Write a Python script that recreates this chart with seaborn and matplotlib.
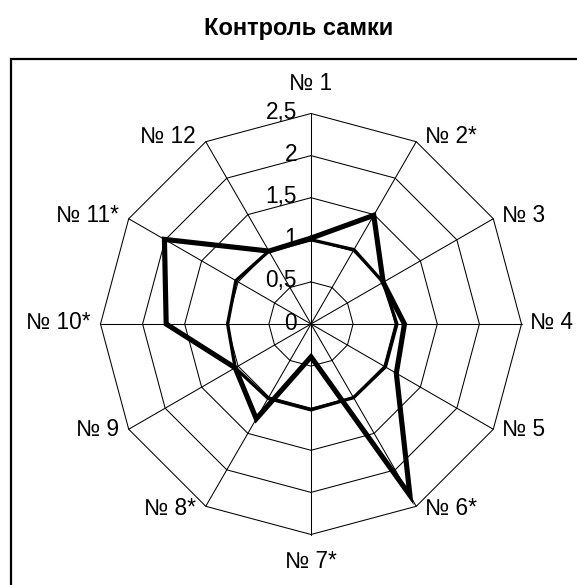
import numpy as np
import pandas as pd
import matplotlib
matplotlib.use("Agg")
import matplotlib.pyplot as plt
import seaborn as sns
from matplotlib.patches import Rectangle

# chart data
title = "Контроль самки"
axis_labels = ["№ 1", "№ 2*", "№ 3", "№ 4", "№ 5", "№ 6*", "№ 7*", "№ 8*", "№ 9", "№ 10*", "№ 11*", "№ 12"]
series_thin = [1.00, 1.02, 0.99, 1.02, 1.02, 1.01, 1.02, 1.02, 1.04, 0.99, 1.03, 1.00]
series_thick = [1.02, 1.49, 0.99, 1.11, 1.17, 2.35, 0.39, 1.30, 1.04, 1.72, 2.01, 1.00]
ring_levels = [0, 0.5, 1, 1.5, 2, 2.5]
ring_labels = ["0", "0,5", "1", "1,5", "2", "2,5"]

# layout in pixels
W, H = 577, 585
CX, CY = 311, 324
UNIT = 84.2
FS = 16.3

sns.set_theme(style="white")
plt.rcParams["font.family"] = ["Liberation Sans", "DejaVu Sans"]
plt.rcParams["text.color"] = "black"

n = len(axis_labels)
angles = np.deg2rad(np.arange(n) * 360 / n)  # clockwise from the top


def to_xy(r, ang):
    r = np.asarray(r, dtype=float)
    return r * np.sin(ang), r * np.cos(ang)


def series_frame(values):
    vals = list(values) + [values[0]]
    angs = np.append(angles, angles[0])
    x, y = to_xy(vals, angs)
    return pd.DataFrame({"x": x, "y": y, "step": np.arange(len(vals))})


fig = plt.figure(figsize=(W / 100, H / 100), dpi=100)
ax = fig.add_axes([0, 0, 1, 1])

# polygon grid and spokes
closed = np.append(angles, angles[0])
r_max = ring_levels[-1]
for lvl in ring_levels[1:]:
    gx, gy = to_xy([lvl] * len(closed), closed)
    ax.plot(gx, gy, color="black", lw=0.75, zorder=1)
for a in angles:
    sx, sy = to_xy([0, r_max], a)
    ax.plot(sx, sy, color="black", lw=0.75, zorder=1)

# value labels on the vertical axis
for lvl, lab in zip(ring_levels, ring_labels):
    ax.text(-14 / UNIT, lvl - 5.5 / UNIT, lab, ha="right", va="baseline",
            fontsize=FS, color="black")

# data series
sns.lineplot(data=series_frame(series_thin), x="x", y="y", sort=False,
             estimator=None, color="black", linewidth=2.4, ax=ax,
             solid_joinstyle="miter", zorder=3)
sns.lineplot(data=series_frame(series_thick), x="x", y="y", sort=False,
             estimator=None, color="black", linewidth=3.7, ax=ax,
             solid_joinstyle="miter", zorder=4)
ax.set_xlim(-CX / UNIT, (W - CX) / UNIT)
ax.set_ylim(-(H - CY) / UNIT, CY / UNIT)
ax.axis("off")

# category labels around the outer ring
for a, lab in zip(angles, axis_labels):
    vx, vy = to_xy(r_max, a)
    s, c = np.sin(a), np.cos(a)
    if abs(s) < 1e-6:
        by = vy + (24 if c > 0 else -33) / UNIT
        ax.text(vx, by, lab, ha="center", va="baseline", fontsize=FS,
                color="black")
    else:
        tx = vx + (9 if s > 0 else -10) / UNIT
        by = vy - (5 - 4 * c) / UNIT
        ax.text(tx, by, lab, ha="left" if s > 0 else "right",
                va="baseline", fontsize=FS, color="black")

# title and chart frame
fig.text(298.5 / W, 1 - 35 / H, title, ha="center", va="baseline",
         fontsize=17, fontweight="bold", color="black")
frame = Rectangle((11 / W, -0.1), 1.2, (1 - 59 / H) + 0.1,
                  transform=fig.transFigure, fill=False, lw=1.6,
                  edgecolor="black")
fig.add_artist(frame)

fig.savefig("out.png", dpi=100)
